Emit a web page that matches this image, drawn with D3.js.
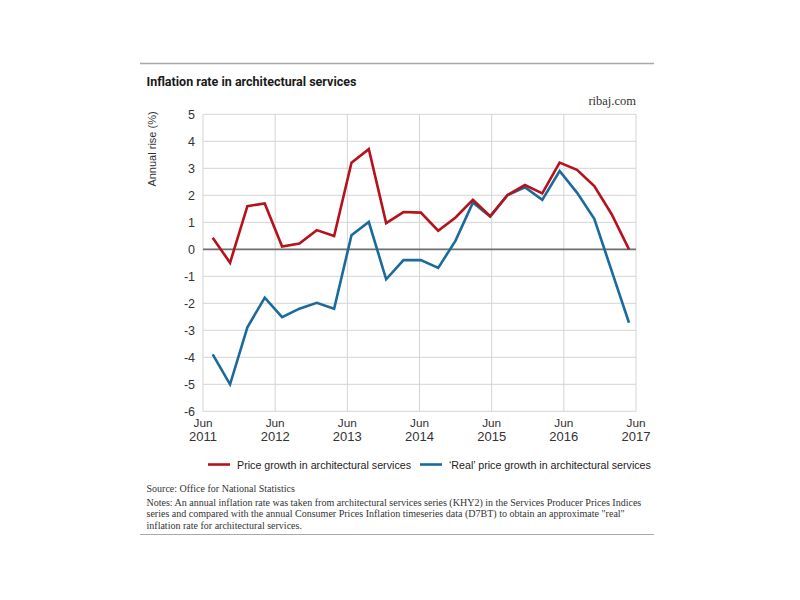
<!DOCTYPE html>
<html>
<head>
<meta charset="utf-8">
<script src="https://cdn.jsdelivr.net/npm/d3@7"></script>
<style>
  html, body { margin: 0; padding: 0; background: #fff; }
  svg { display: block; }
</style>
</head>
<body>
<svg id="chart" width="800" height="600"></svg>
<script>
// ---- Data ----
const tickLabels = ["Jun 2011", "Jun 2012", "Jun 2013", "Jun 2014", "Jun 2015", "Jun 2016", "Jun 2017"];
const yTicks = [5, 4, 3, 2, 1, 0, -1, -2, -3, -4, -5, -6];
// quarterly observations (index 0..24)
const priceGrowth = [0.43, -0.50, 1.60, 1.70, 0.10, 0.21, 0.71, 0.49, 3.21, 3.71, 0.97, 1.38, 1.36,
                     0.69, 1.18, 1.83, 1.23, 2.01, 2.38, 2.07, 3.21, 2.94, 2.34, 1.30, 0.00];
const realGrowth  = [-3.89, -5.00, -2.89, -1.79, -2.51, -2.20, -1.98, -2.20, 0.52, 1.01, -1.11, -0.40, -0.40,
                     -0.69, 0.32, 1.73, 1.21, 2.01, 2.30, 1.83, 2.90, 2.10, 1.13, -0.80, -2.72];
const seriesNames = ["Price growth in architectural services", "\u2018Real\u2019 price growth in architectural services"];

const svg = d3.select("#chart");
const plot = { left: 203, right: 636, top: 114.3, bottom: 411.3 };

const y = d3.scaleLinear().domain([-6, 5]).range([plot.bottom, plot.top]);
const xAxisScale = d3.scalePoint().domain(tickLabels).range([plot.left, plot.right]);
const xData = d3.scaleLinear().domain([0, priceGrowth.length - 1]).range([212.7, 629]);

const sans = "'Liberation Sans', Arial, Helvetica, sans-serif";
const serif = "'Liberation Serif', 'Times New Roman', serif";

// scale a text element's font-size so that its width equals target
function fitWidth(sel, target) {
  sel.each(function() {
    const fs = parseFloat(this.getAttribute("font-size"));
    const w = this.getComputedTextLength();
    if (w > 0) this.setAttribute("font-size", (fs * target / w).toFixed(2));
  });
}

// top rule
svg.append("line").attr("x1", 140).attr("x2", 654).attr("y1", 63.5).attr("y2", 63.5)
  .attr("stroke", "#a8a8a8").attr("stroke-width", 1.5);
// title
svg.append("text").attr("x", 146.5).attr("y", 86)
  .attr("font-family", "Roboto, 'Liberation Sans', sans-serif").attr("font-weight", 700)
  .attr("font-size", 12.6).attr("fill", "#1a1a1a")
  .text("Inflation rate in architectural services")
  .call(fitWidth, 210);
// brand
svg.append("text").attr("x", 636).attr("y", 105).attr("text-anchor", "end")
  .attr("font-family", serif).attr("font-size", 12.5).attr("fill", "#333")
  .text("ribaj.com");

// grid
const g = svg.append("g");
g.selectAll(".hgrid").data(yTicks).enter().append("line")
  .attr("x1", plot.left).attr("x2", plot.right)
  .attr("y1", d => y(d)).attr("y2", d => y(d))
  .attr("stroke", "#d4d4d4").attr("stroke-width", 1);
g.selectAll(".vgrid").data(tickLabels).enter().append("line")
  .attr("x1", d => xAxisScale(d)).attr("x2", d => xAxisScale(d))
  .attr("y1", plot.top).attr("y2", plot.bottom)
  .attr("stroke", "#d4d4d4").attr("stroke-width", 1);
// zero line
g.append("line").attr("x1", plot.left).attr("x2", plot.right)
  .attr("y1", y(0)).attr("y2", y(0)).attr("stroke", "#707070").attr("stroke-width", 1.8);

// y axis labels
const yAxis = d3.axisLeft(y).tickValues(yTicks).tickSize(0).tickPadding(8).tickFormat(d3.format("d"));
const ya = svg.append("g").attr("transform", `translate(${plot.left},0)`).call(yAxis);
ya.select(".domain").remove();
ya.selectAll("text").attr("font-family", sans).attr("font-size", 12.5).attr("fill", "#333")
  .text(d => String(d).replace("\u2212", "-"));

// x axis labels (two-line)
const xa = svg.append("g");
const xt = xa.selectAll("text").data(tickLabels).enter().append("text")
  .attr("x", d => xAxisScale(d)).attr("text-anchor", "middle")
  .attr("font-family", sans).attr("fill", "#333");
xt.append("tspan").attr("x", d => xAxisScale(d)).attr("y", 427).attr("font-size", 11.8).text(d => d.split(" ")[0]);
xt.append("tspan").attr("x", d => xAxisScale(d)).attr("y", 440.5).attr("font-size", 13).text(d => d.split(" ")[1]);

// y axis title
svg.append("text").attr("transform", "translate(156,149) rotate(-90)")
  .attr("text-anchor", "middle").attr("font-family", sans).attr("font-size", 11).attr("fill", "#333")
  .text("Annual rise (%)");

// lines
const colors = ["#b5121b", "#1a6b9c"];
const line = d3.line().x((d, i) => xData(i)).y(d => y(d)).curve(d3.curveLinear);
[realGrowth, priceGrowth].forEach((s, k) => {
  svg.append("path").datum(s).attr("d", line).attr("fill", "none")
    .attr("stroke", k === 0 ? colors[1] : colors[0]).attr("stroke-width", 2.6)
    .attr("stroke-linejoin", "miter");
});

// legend
const legend = [
  { name: seriesNames[0], color: colors[0], x: 208, w: 174 },
  { name: seriesNames[1], color: colors[1], x: 420, w: 202 }
];
const lg = svg.selectAll(".leg").data(legend).enter().append("g");
lg.append("line").attr("x1", d => d.x).attr("x2", d => d.x + 22).attr("y1", 464.5).attr("y2", 464.5)
  .attr("stroke", d => d.color).attr("stroke-width", 2.6);
lg.append("text").attr("x", d => d.x + 29).attr("y", 468.5).attr("font-family", sans)
  .attr("font-size", 12).attr("fill", "#222").text(d => d.name)
  .each(function(d) { d3.select(this).call(fitWidth, d.w); });

// footer
const notes = [
  "Source: Office for National Statistics",
  "Notes: An annual inflation rate was taken from architectural services series (KHY2) in the Services Producer Prices Indices",
  "series and compared with the annual Consumer Prices Inflation timeseries data (D7BT) to obtain an approximate \"real\"",
  "inflation rate for architectural services."
];
const noteText = svg.selectAll(".note").data(notes).enter().append("text")
  .attr("x", 146.5).attr("y", (d, i) => [491.5, 505.5, 517.3, 529][i])
  .attr("font-family", serif).attr("font-size", 10.3).attr("fill", "#333").text(d => d);
// size footer so the longest line spans the same width as the reference
const longest = noteText.filter((d, i) => i === 1);
longest.call(fitWidth, 495);
noteText.attr("font-size", longest.attr("font-size"));

svg.append("line").attr("x1", 140).attr("x2", 654).attr("y1", 534.5).attr("y2", 534.5)
  .attr("stroke", "#a8a8a8").attr("stroke-width", 1.2);
</script>
</body>
</html>
